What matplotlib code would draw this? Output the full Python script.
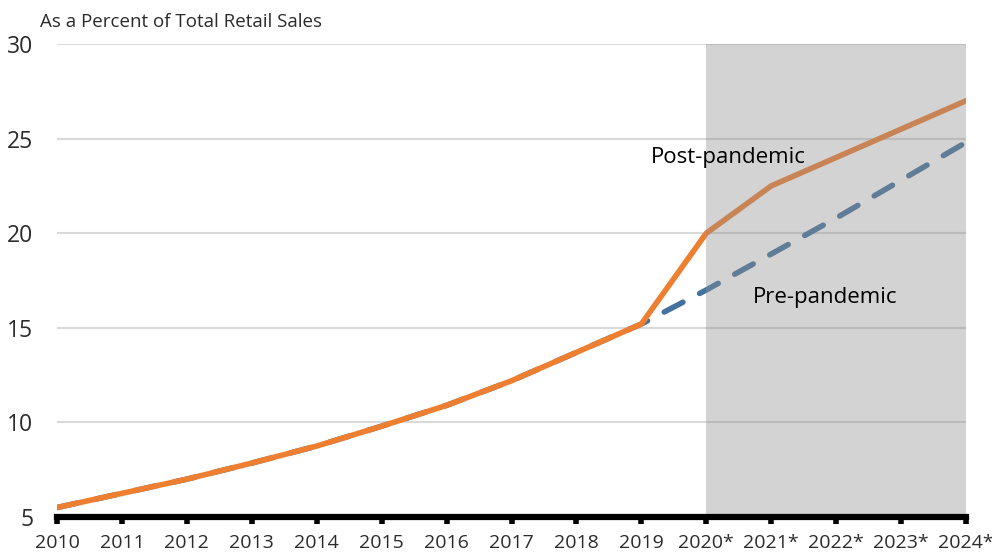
import matplotlib
matplotlib.use("Agg")
import matplotlib.pyplot as plt

years = ["2010", "2011", "2012", "2013", "2014", "2015", "2016", "2017", "2018", "2019",
         "2020*", "2021*", "2022*", "2023*", "2024*"]
post_pandemic = [5.5, 6.25, 7.0, 7.85, 8.75, 9.8, 10.9, 12.2, 13.7, 15.2, 20.0, 22.5, 24.0, 25.5, 27.0]
pre_pandemic = [5.5, 6.25, 7.0, 7.85, 8.75, 9.8, 10.9, 12.2, 13.7, 15.2, 17.0, 18.9, 20.8, 22.8, 24.8]
y_ticks = [5, 10, 15, 20, 25, 30]

plt.rcParams['font.family'] = ['Open Sans', 'DejaVu Sans']

fig = plt.figure(figsize=(9.92, 5.53), dpi=100)
ax = fig.add_axes([57/992, 1 - 517/553, (966-57)/992, (517-44)/553])

x = list(range(len(years)))
ax.plot(x, pre_pandemic, color="#44729E", lw=4, dashes=(3.8, 3.4), zorder=3, dash_capstyle='round')
ax.plot(x, post_pandemic, color="#EE7F30", lw=4, zorder=4)

ax.axvspan(10, 14, color="#8E8E8E", alpha=0.39, lw=0, zorder=5)

ax.set_xlim(0, 14)
ax.set_ylim(5, 30)
ax.set_yticks(y_ticks)
ax.set_yticklabels([str(v) for v in y_ticks], fontsize=16.5, color="#2b2b2b")
ax.set_xticks(x)
ax.set_xticklabels(years, fontsize=14, color="#2b2b2b")

ax.grid(axis='y', color="#D9D9D9", lw=1.5, zorder=0)
ax.set_axisbelow(True)
for s in ['top', 'right', 'left']:
    ax.spines[s].set_visible(False)
ax.spines['bottom'].set_linewidth(4.5)
ax.spines['bottom'].set_color('black')
ax.spines['bottom'].set_zorder(6)
ax.tick_params(axis='x', length=5, width=4, color='black', pad=7)
ax.tick_params(axis='y', length=0, pad=17)

ax.text(9.15, 24, "Post-pandemic", fontsize=16, color="black", ha='left', va='center', zorder=7)
ax.text(10.72, 16.6, "Pre-pandemic", fontsize=16, color="black", ha='left', va='center', zorder=7)

fig.text(40/992, 1 - 22/553, "As a Percent of Total Retail Sales", fontsize=13.5, color="#2b2b2b",
         ha='left', va='center')

fig.savefig("out.png", dpi=100)
